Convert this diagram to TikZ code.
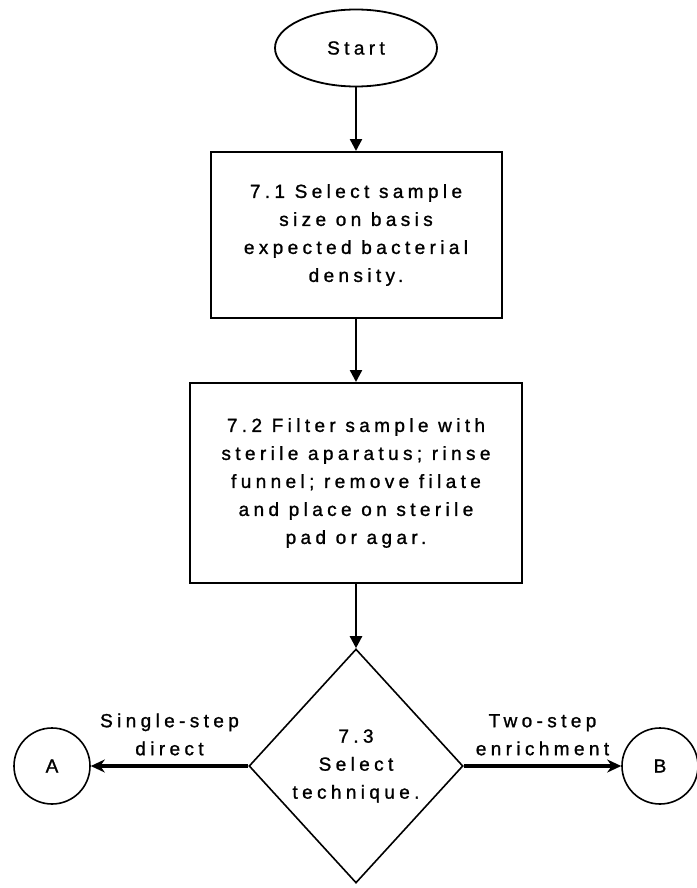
\documentclass[tikz,border=0pt]{standalone}
\usepackage{fontspec}
\setmainfont{Liberation Sans}[LetterSpace=23,FakeBold=1.2]
\usetikzlibrary{arrows.meta}
\usetikzlibrary{shapes.geometric}
\usetikzlibrary{positioning}

\tikzset{
  termnode/.style={draw,ellipse,line width=1.8pt,inner sep=0pt,
    minimum width=162pt,minimum height=77pt},
  procbox/.style={draw,rectangle,line width=2pt,align=center,inner sep=0pt},
  decnode/.style={draw,diamond,line width=1.6pt,align=center,inner sep=0pt,
    minimum width=214pt,minimum height=234pt},
  connnode/.style={draw,circle,line width=1.6pt,inner sep=0pt,minimum size=76pt},
  downarr/.style={-{Triangle[length=12pt,width=12pt]},line width=2.4pt},
  sidearr/.style={-{Stealth[length=14pt,width=13pt]},line width=3.2pt},
  brlabel/.style={above=9pt,align=center,inner sep=0pt}
}

\begin{document}
\begin{tikzpicture}[x=1pt,y=-1pt,font=\fontsize{19}{28}\selectfont]
    \useasboundingbox (0,0) rectangle (696,888);
    %% main column
    \node[termnode] (start) at (356,48) {Start};
    \node[procbox,minimum width=291pt,minimum height=166pt] (s71) at (356,235)
      {7.1 Select sample\\size on basis\\expected bacterial\\density.};
    \node[procbox,minimum width=332pt,minimum height=200pt] (s72) at (356,483)
      {7.2 Filter sample with\\sterile aparatus; rinse\\funnel; remove filate\\and place on sterile\\pad or agar.};
    \node[decnode] (s73) at (356,766) {7.3\\Select\\technique.};
    %% connectors
    \node[connnode] (A) at (52,766) {A};
    \node[connnode] (B) at (660,766) {B};
    \draw[downarr] (start) to (s71);
    \draw[downarr] (s71) to (s72);
    \draw[downarr] (s72) to (s73);
    \draw[sidearr] (s73) to node[brlabel] {Single-step\\direct} (A);
    \draw[sidearr] (s73) to node[brlabel] {Two-step\\enrichment} (B);
\end{tikzpicture}
\end{document}
